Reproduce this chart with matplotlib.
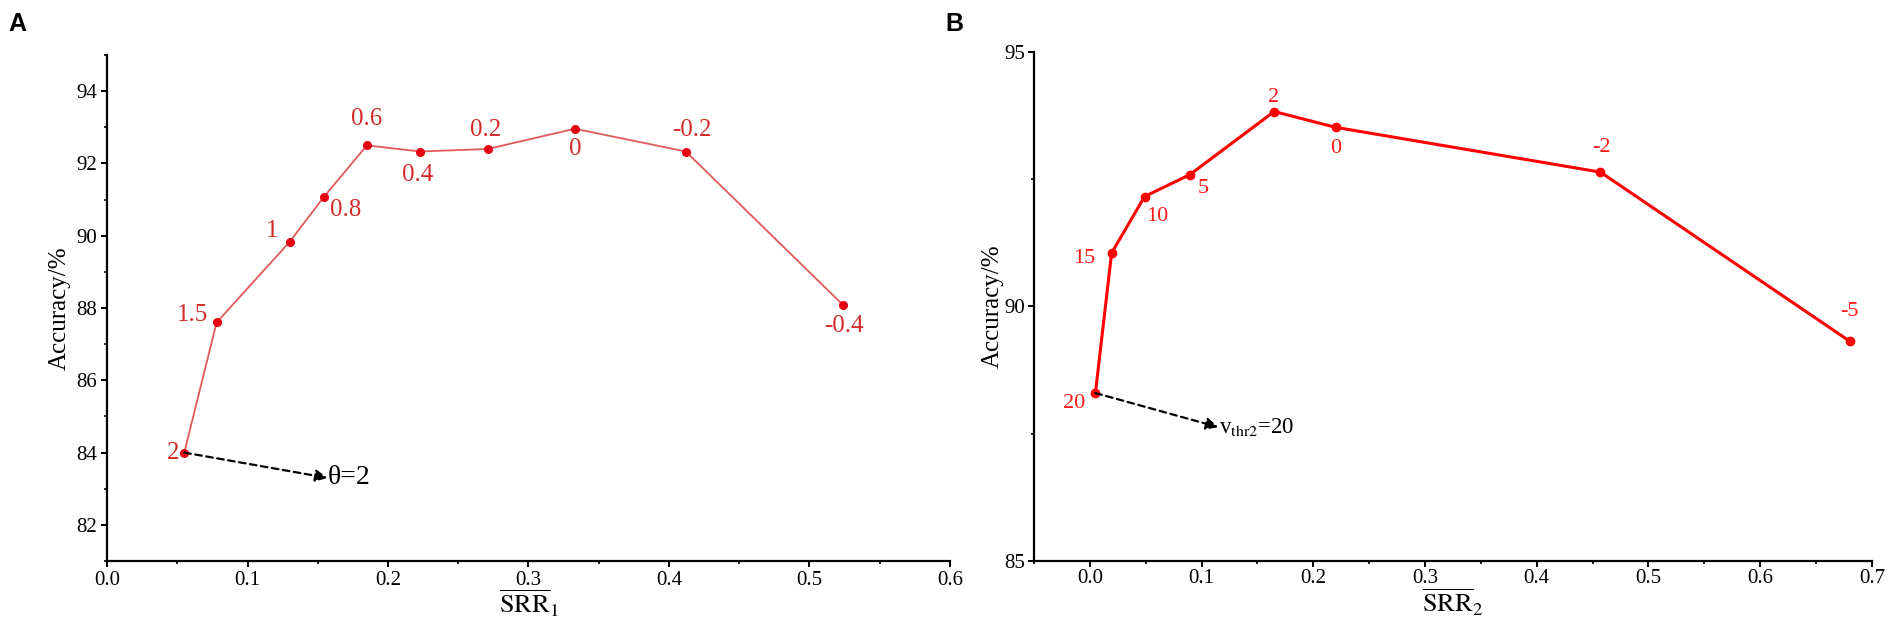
import matplotlib
matplotlib.use("Agg")
import matplotlib.pyplot as plt
from matplotlib.ticker import MultipleLocator

plt.rcParams["font.family"] = ["Liberation Serif", "DejaVu Serif"]
plt.rcParams["mathtext.fontset"] = "stix"

# Panel A: theta sweep
srr1 = [0.055, 0.078, 0.130, 0.1545, 0.185, 0.223, 0.271, 0.333, 0.412, 0.524]
acc1 = [84.0, 87.6, 89.83, 91.08, 92.5, 92.33, 92.4, 92.96, 92.33, 88.08]
theta = ["2", "1.5", "1", "0.8", "0.6", "0.4", "0.2", "0", "-0.2", "-0.4"]

# Panel B: v_thr2 sweep
srr2 = [0.005, 0.0195, 0.049, 0.0895, 0.165, 0.220, 0.457, 0.680]
acc2 = [88.3, 91.05, 92.16, 92.59, 93.83, 93.52, 92.64, 89.32]
vthr = ["20", "15", "10", "5", "2", "0", "-2", "-5"]

# label offsets in pixels (dx, dy) and alignment
off1 = [(-5, 0, "right"), (-8, 7, "right"), (-11, 11, "right"), (6, -13, "left"),
        (0, 26, "center"), (-3, -23, "center"), (-2, 19, "center"),
        (0, -20, "center"), (6, 22, "center"), (1, -21, "center")]
off2 = [(-10, -10, "right"), (-16, -5, "right"), (13, -20, "center"), (13, -14, "center"),
        (-1, 14, "center"), (0, -21, "center"), (1, 25, "center"), (0, 30, "center")]

fig = plt.figure(figsize=(19.01, 6.28), dpi=100)
axA = fig.add_axes([0.0563, 0.1067, 0.4434, 0.8057])
axB = fig.add_axes([0.5439, 0.1067, 0.4408, 0.8105])


def style(ax):
    for s in ("top", "right"):
        ax.spines[s].set_visible(False)
    for s in ("left", "bottom"):
        ax.spines[s].set_linewidth(1.6)
    ax.tick_params(which="major", direction="out", length=4, width=1.4, labelsize=15, pad=3)
    ax.tick_params(which="minor", direction="out", length=2.5, width=1.2)


# --- A ---
axA.plot(srr1, acc1, color="#e05a5a", lw=1.3, zorder=2)
axA.plot(srr1, acc1, "o", color="#e60012", ms=5.5, zorder=3, lw=0)
for x, y, t, (dx, dy, ha) in zip(srr1, acc1, theta, off1):
    axA.annotate(t, (x, y), xytext=(dx * 0.72, dy * 0.72), textcoords="offset points",
                 ha=ha, va="center", color="#d42a2a", fontsize=18)
axA.set_xlim(0, 0.6)
axA.set_ylim(81, 95)
axA.xaxis.set_major_locator(MultipleLocator(0.1))
axA.xaxis.set_minor_locator(MultipleLocator(0.05))
axA.yaxis.set_minor_locator(MultipleLocator(1))
axA.set_yticks([82, 84, 86, 88, 90, 92, 94])
style(axA)
axA.set_ylabel("Accuracy/%", fontsize=18, labelpad=4)
axA.set_xlabel(r"$\overline{\mathrm{SRR}}_{1}$", fontsize=19, labelpad=-1)
axA.annotate("", xy=(0.157, 83.3), xytext=(srr1[0], acc1[0]),
             arrowprops=dict(arrowstyle="-|>", ls=(0, (3, 2)), color="black", lw=1.6,
                             mutation_scale=18, shrinkA=0, shrinkB=0))
axA.text(0.157, 83.3, r"θ=2", fontsize=20, va="center", ha="left", color="black")

# --- B ---
axB.plot(srr2, acc2, color="#ff0000", lw=2.2, zorder=2)
axB.plot(srr2, acc2, "o", color="#ff0000", ms=6, zorder=3, lw=0)
for x, y, t, (dx, dy, ha) in zip(srr2, acc2, vthr, off2):
    axB.annotate(t, (x, y), xytext=(dx * 0.72, dy * 0.72), textcoords="offset points",
                 ha=ha, va="center", color="#ff1a1a", fontsize=16)
axB.set_xlim(-0.05, 0.7)
axB.set_ylim(85, 95)
axB.xaxis.set_major_locator(MultipleLocator(0.1))
axB.xaxis.set_minor_locator(MultipleLocator(0.05))
axB.yaxis.set_minor_locator(MultipleLocator(2.5))
axB.set_yticks([85, 90, 95])
axB.set_xticks([0.0, 0.1, 0.2, 0.3, 0.4, 0.5, 0.6, 0.7])
style(axB)
axB.tick_params(which="major", labelsize=15, pad=2)
axB.set_ylabel("Accuracy/%", fontsize=18, labelpad=1)
axB.set_xlabel(r"$\overline{\mathrm{SRR}}_{2}$", fontsize=19, labelpad=-1)
axB.annotate("", xy=(0.115, 87.63), xytext=(srr2[0], acc2[0]),
             arrowprops=dict(arrowstyle="-|>", ls=(0, (3, 2)), color="black", lw=1.6,
                             mutation_scale=18, shrinkA=0, shrinkB=0))
axB.text(0.116, 87.63, r"v$_{\mathrm{thr2}}$=20", fontsize=16.5, va="center", ha="left",
         color="black")

# panel letters
fig.text(8 / 1901, 1 - 12 / 628, "A", fontsize=18, fontweight="bold",
         family="Liberation Sans", va="top", ha="left")
fig.text(945 / 1901, 1 - 12 / 628, "B", fontsize=18, fontweight="bold",
         family="Liberation Sans", va="top", ha="left")

fig.savefig("out.png", dpi=100)
